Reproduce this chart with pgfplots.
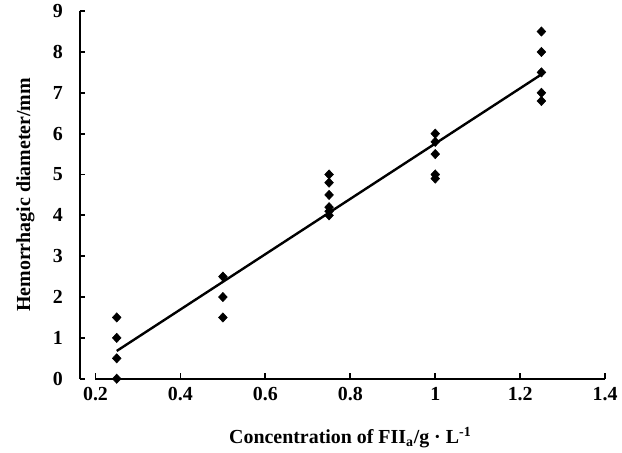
\documentclass[border=0pt]{standalone}
\usepackage{fontspec}
\setmainfont{Liberation Serif}
\usepackage{pgfplots}
\pgfplotsset{compat=1.18}

\begin{document}
\begin{tikzpicture}
\begin{axis}[
    scale only axis,
    width=384pt, height=277pt,
    xmin=0.2, xmax=1.4,
    ymin=0, ymax=9,
    axis lines=left,
    axis line style={-, line width=1.6pt},
    axis y line shift=12pt,
    xtick={0.2,0.4,...,1.4},
    ytick={0,1,...,9},
    tick align=inside,
    major tick length=4pt,
    tick style={line width=1.4pt, black},
    /pgf/number format/assume math mode=true,
    tick label style={font=\fontsize{15}{18}\selectfont\bfseries},
    yticklabel style={xshift=-9pt},
    xticklabel style={yshift=-3pt},
    label style={font=\fontsize{15}{18}\selectfont\bfseries},
    xlabel={Concentration of FII\textsubscript{a}/g · L\textsuperscript{-1}},
    ylabel={Hemorrhagic diameter/mm},
    xlabel style={yshift=-13pt},
    ylabel style={yshift=7pt},
    clip=false,
]
\addplot[only marks, mark=diamond*, mark size=3.5pt, mark options={xscale=1.25}, black] coordinates {
    (0.25,0) (0.25,0.5) (0.25,1.0) (0.25,1.5)
    (0.5,1.5) (0.5,2.0) (0.5,2.5)
    (0.75,4.0) (0.75,4.1) (0.75,4.2) (0.75,4.5) (0.75,4.8) (0.75,5.0)
    (1.0,4.9) (1.0,5.0) (1.0,5.5) (1.0,5.8) (1.0,6.0)
    (1.25,6.8) (1.25,7.0) (1.25,7.5) (1.25,8.0) (1.25,8.5)
};
\addplot[no marks, black, line width=1.8pt] coordinates {
    (0.25,0.68) (1.25,7.45)
};
\end{axis}
% white margin left of the y label, as in the reference
\path (current bounding box.west) ++(-9pt,0) coordinate (lm);
\end{tikzpicture}
\end{document}
